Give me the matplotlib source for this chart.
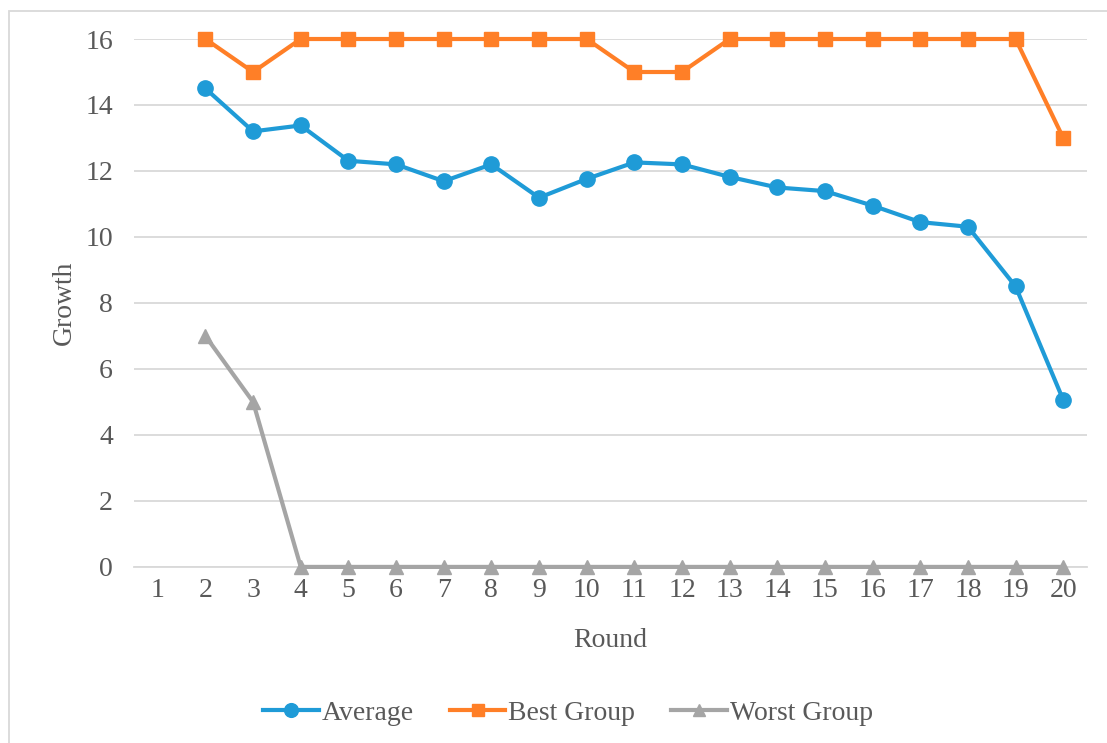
import numpy as np
import matplotlib
matplotlib.use("Agg")
import matplotlib.pyplot as plt
from matplotlib.patches import Rectangle

rounds = list(range(1, 21))
tick_labels = [str(r) for r in rounds]
series_rounds = list(range(2, 21))
average = [14.5, 13.2, 13.38, 12.31, 12.2, 11.69, 12.2, 11.19, 11.76, 12.26,
           12.2, 11.82, 11.5, 11.39, 10.95, 10.45, 10.31, 8.5, 5.06]
best_group = [16, 15, 16, 16, 16, 16, 16, 16, 16, 15, 15, 16, 16, 16, 16, 16, 16, 16, 13]
worst_group = [7, 5, 0, 0, 0, 0, 0, 0, 0, 0, 0, 0, 0, 0, 0, 0, 0, 0, 0]

plt.rcParams['font.family'] = ['Liberation Serif', 'DejaVu Serif']
text_color = '#595959'
fs = 20

fig = plt.figure(figsize=(11.07, 7.43), dpi=100)
ax = fig.add_axes([0.121, 0.237, 0.861, 0.7105])

ax.plot(series_rounds, average, color='#1F9BD7', lw=3, marker='o', ms=11,
        label='Average', zorder=3, clip_on=False)
ax.plot(series_rounds, best_group, color='#FF7F27', lw=3, marker='s', ms=10,
        label='Best Group', zorder=3, clip_on=False)
ax.plot(series_rounds, worst_group, color='#A5A5A5', lw=3, marker='^', ms=10,
        label='Worst Group', zorder=3, clip_on=False)

ax.set_xlim(0.5, 20.5)
ax.set_ylim(0, 16)
ax.set_yticks(np.arange(0, 17, 2))
ax.set_xticks(rounds)
ax.set_xticklabels(tick_labels)
ax.grid(axis='y', color='#D9D9D9', lw=1.3, zorder=0)
for s in ['top', 'right', 'left']:
    ax.spines[s].set_visible(False)
ax.spines['bottom'].set_color('#D9D9D9')
ax.spines['bottom'].set_linewidth(1.3)
ax.tick_params(axis='both', length=0, labelsize=fs, colors=text_color)
ax.tick_params(axis='y', pad=15)
ax.tick_params(axis='x', pad=8)
ax.set_xlabel('Round', fontsize=fs, color=text_color, labelpad=18)
ax.set_ylabel('Growth', fontsize=fs, color=text_color, labelpad=6)

fig.legend(loc='center', bbox_to_anchor=(0.513, 0.04), ncol=3, frameon=False,
           fontsize=fs, labelcolor=text_color, handlelength=2.0, handletextpad=0.1,
           columnspacing=1.3, markerscale=0.9)

fig.patches.append(Rectangle((0.008, -0.01), 1.1, 0.995, transform=fig.transFigure,
                             fill=False, edgecolor='#D9D9D9', lw=1.3))

fig.savefig('out.png', dpi=100)
